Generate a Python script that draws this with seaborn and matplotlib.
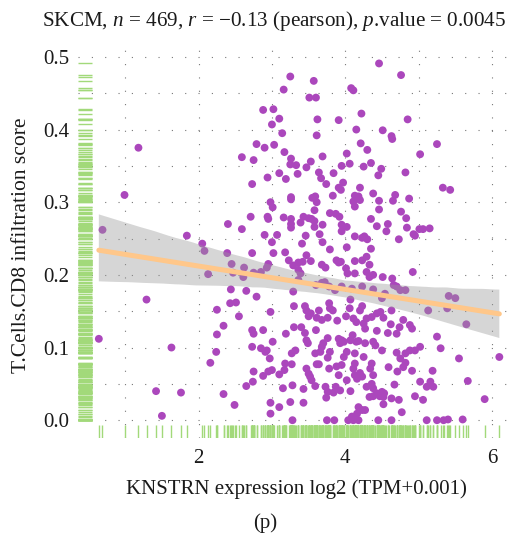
import matplotlib
matplotlib.use("Agg")
import matplotlib.pyplot as plt
import seaborn as sns
import numpy as np
import pandas as pd

# ---- data ----
expr = [
    1.18, 0.99, 0.69, 1.84, 2.40, 2.05, 2.08, 2.39, 2.45, 2.62,
    2.47, 2.13, 2.44, 1.29, 2.43, 2.51, 2.25, 2.55, 2.34, 2.25,
    0.64, 1.63, 2.24, 2.16, 1.42, 1.76, 2.34, 2.49, 1.50,
    3.25, 3.57, 3.16, 3.51, 3.60, 2.88, 3.02, 3.10, 3.00, 3.62,
    3.91, 3.14, 3.61, 2.79, 2.90, 3.03, 3.17, 2.59, 2.75, 3.26,
    3.25, 3.33, 3.53, 3.69, 4.02, 3.47, 3.95, 4.06, 3.10, 3.35,
    3.64, 3.84, 2.94, 3.19, 3.67, 3.74, 3.97, 2.73, 3.91, 3.94,
    3.26, 3.26, 3.55, 3.59, 3.61, 3.83, 2.98, 3.01, 3.58, 2.71,
    2.94, 2.95, 3.16, 3.26, 3.26, 3.26, 3.43, 3.39, 3.50, 3.54,
    3.58, 3.58, 3.69, 3.79, 3.87, 3.92, 3.95, 3.95, 4.02, 2.59,
    2.90, 3.07, 3.46, 3.65, 3.00, 3.41, 3.69, 3.79,
    4.46, 4.76, 4.08, 4.11, 4.22, 4.85, 4.15, 4.51, 4.63, 4.64,
    4.21, 4.30, 5.25, 5.02, 4.25, 4.35, 4.49, 4.45, 4.82, 4.20,
    5.33, 5.43, 4.13, 4.18, 4.20, 4.11, 4.13, 4.38, 4.46, 4.46,
    4.68, 4.65, 4.87, 4.35, 4.43, 4.58, 4.56, 4.76, 4.83, 4.84,
    4.93, 4.95, 5.01, 5.06, 5.15, 4.73, 4.13, 4.23, 4.26, 4.30,
    2.73, 3.02, 3.18, 3.47, 3.23, 3.29, 3.36, 3.42, 3.53, 3.36,
    3.39, 3.68, 3.73, 3.88, 3.91, 2.95, 2.93, 2.85, 2.75, 2.61,
    2.65, 2.79, 3.36, 3.29, 3.60, 3.68, 3.72, 3.78, 3.86, 3.30,
    3.45, 3.47, 3.53, 3.50, 3.64, 3.68, 3.61, 3.78, 3.79, 3.83,
    3.76, 3.89, 2.98, 2.73, 2.75, 2.88, 3.30, 3.40, 3.19, 3.45,
    3.47, 3.49, 3.60, 3.76, 3.70, 3.68, 3.66, 3.79, 3.76, 3.91,
    3.93, 3.01, 2.73, 2.85, 2.91, 2.93, 2.97, 3.32, 3.27, 3.59,
    3.18, 3.17, 3.27, 3.47, 3.50, 3.52, 3.54, 3.61, 3.64, 3.78,
    3.88, 3.91, 2.95, 3.00, 2.88, 2.75, 2.74, 2.65, 3.10, 3.15,
    3.28, 3.43, 3.59, 3.73, 3.76, 3.74, 3.84, 3.87, 3.93, 3.25,
    3.43, 2.98, 2.98, 3.10, 3.28, 3.75, 3.85,
    4.02, 4.35, 4.13, 4.23, 4.29, 4.33, 3.94, 4.01, 4.03, 4.13,
    4.29, 4.33, 4.38, 4.51, 4.64, 4.66, 4.70, 4.75, 4.82, 4.92,
    3.95, 4.09, 4.23, 4.38, 4.07, 4.54, 4.50, 4.63, 5.13, 4.06,
    4.20, 4.23, 4.01, 4.11, 4.15, 4.29, 4.36, 4.43, 4.48, 4.52,
    4.25, 4.27, 4.43, 4.58, 4.62, 4.70, 4.74, 4.79, 4.88, 4.91,
    3.95, 3.98, 4.07, 4.15, 4.18, 4.27, 4.38, 4.41, 4.10, 4.50,
    4.70, 4.75, 4.82, 4.88, 4.95, 5.02, 5.25, 5.30, 4.02, 3.98,
    4.13, 4.25, 3.95, 4.13, 4.11, 4.36, 4.34, 4.59, 4.82, 4.79,
    4.91, 4.71, 4.13, 4.20, 4.16, 4.23, 4.38, 4.02, 4.29, 4.36,
    4.38, 4.43, 4.50, 4.53, 4.47, 4.67, 5.02, 5.11, 5.20, 5.16,
    5.19, 4.07, 4.33, 4.38, 4.52, 4.63, 4.73, 4.95, 5.06, 4.52,
    4.18, 4.23, 4.27, 4.16, 4.77, 4.04, 4.11, 4.18, 4.09, 4.45,
    4.63, 5.11, 5.25, 5.34,
    5.41, 5.50, 5.39, 5.65, 5.55, 6.10, 5.67, 5.90, 5.40, 5.60,
]

score = [
    0.375, 0.310, 0.262, 0.254, 0.270, 0.243, 0.233, 0.230, 0.215, 0.210,
    0.203, 0.201, 0.180, 0.166, 0.161, 0.162, 0.152, 0.143, 0.130, 0.118,
    0.112, 0.100, 0.094, 0.079, 0.040, 0.038, 0.036, 0.021, 0.006,
    0.473, 0.467, 0.455, 0.444, 0.444, 0.427, 0.428, 0.415, 0.407, 0.414,
    0.413, 0.395, 0.392, 0.380, 0.375, 0.379, 0.369, 0.362, 0.358, 0.360,
    0.352, 0.351, 0.356, 0.363, 0.367, 0.348, 0.350, 0.353, 0.340, 0.339,
    0.341, 0.340, 0.334, 0.332, 0.333, 0.325, 0.327, 0.325, 0.320, 0.317,
    0.307, 0.304, 0.306, 0.308, 0.300, 0.309, 0.300, 0.293, 0.289, 0.280,
    0.280, 0.277, 0.279, 0.277, 0.270, 0.265, 0.280, 0.272, 0.278, 0.277,
    0.274, 0.266, 0.269, 0.285, 0.284, 0.280, 0.269, 0.260, 0.266, 0.263,
    0.255, 0.255, 0.254, 0.256, 0.245, 0.243, 0.245, 0.235,
    0.491, 0.475, 0.457, 0.454, 0.422, 0.414, 0.400, 0.399, 0.391, 0.387,
    0.381, 0.372, 0.380, 0.366, 0.349, 0.354, 0.346, 0.337, 0.341, 0.320,
    0.320, 0.317, 0.309, 0.308, 0.303, 0.301, 0.294, 0.312, 0.302, 0.290,
    0.310, 0.302, 0.305, 0.277, 0.267, 0.270, 0.260, 0.287, 0.278, 0.265,
    0.256, 0.254, 0.263, 0.263, 0.264, 0.249, 0.253, 0.251, 0.253, 0.249,
    0.230, 0.230, 0.231, 0.227, 0.220, 0.213, 0.217, 0.218, 0.219, 0.207,
    0.202, 0.214, 0.210, 0.220, 0.217, 0.215, 0.210, 0.204, 0.203, 0.197,
    0.178, 0.170, 0.193, 0.177, 0.186, 0.189, 0.190, 0.184, 0.179, 0.157,
    0.157, 0.151, 0.147, 0.143, 0.151, 0.138, 0.141, 0.161, 0.154, 0.151,
    0.141, 0.137, 0.149, 0.124, 0.119, 0.124, 0.128, 0.128, 0.119, 0.120,
    0.110, 0.106, 0.124, 0.113, 0.106, 0.101, 0.094, 0.094, 0.086, 0.112,
    0.106, 0.108, 0.101, 0.099, 0.094, 0.096, 0.085, 0.096, 0.092, 0.092,
    0.078, 0.069, 0.077, 0.071, 0.064, 0.060, 0.055, 0.077, 0.077, 0.071,
    0.074, 0.062, 0.067, 0.069, 0.061, 0.067, 0.053, 0.047, 0.063, 0.044,
    0.048, 0.043, 0.047, 0.046, 0.039, 0.031, 0.038, 0.046, 0.041, 0.025,
    0.024, 0.024, 0.009, 0.018, 0.000, 0.000, 0.000,
    0.238, 0.236, 0.219, 0.220, 0.225, 0.214, 0.218, 0.209, 0.202, 0.202,
    0.204, 0.197, 0.200, 0.197, 0.195, 0.186, 0.184, 0.179, 0.179, 0.204,
    0.184, 0.181, 0.184, 0.180, 0.166, 0.174, 0.168, 0.151, 0.151, 0.154,
    0.151, 0.157, 0.143, 0.140, 0.135, 0.140, 0.142, 0.147, 0.149, 0.141,
    0.133, 0.126, 0.123, 0.120, 0.132, 0.119, 0.128, 0.138, 0.131, 0.126,
    0.110, 0.108, 0.110, 0.108, 0.109, 0.106, 0.108, 0.103, 0.117, 0.096,
    0.093, 0.085, 0.092, 0.096, 0.096, 0.101, 0.115, 0.099, 0.094, 0.087,
    0.092, 0.087, 0.076, 0.078, 0.071, 0.078, 0.071, 0.073, 0.079, 0.073,
    0.068, 0.067, 0.062, 0.065, 0.057, 0.060, 0.062, 0.055, 0.046, 0.050,
    0.044, 0.037, 0.039, 0.037, 0.033, 0.049, 0.053, 0.046, 0.046, 0.053,
    0.068, 0.040, 0.032, 0.033, 0.032, 0.030, 0.028, 0.033, 0.028, 0.022,
    0.018, 0.014, 0.014, 0.009, 0.011, 0.000, 0.000, 0.000, 0.005, 0.000,
    0.000, 0.000, 0.000, 0.000,
    0.171, 0.168, 0.154, 0.132, 0.085, 0.087, 0.054, 0.029, 0.001, 0.001,
]

x_ticks = [2, 4, 6]
y_ticks = [0.0, 0.1, 0.2, 0.3, 0.4, 0.5]
y_tick_labels = ["0.0", "0.1", "0.2", "0.3", "0.4", "0.5"]

title_text = r"SKCM, $n$ = 469, $r$ = −0.13 (pearson), $p$.value = 0.0045"
x_label = "KNSTRN expression log2 (TPM+0.001)"
y_label = "T.Cells.CD8 infiltration score"
panel_tag = "(p)"

df = pd.DataFrame({"expr": expr, "score": score})

# ---- style ----
sns.set_theme(style="white")
plt.rcParams["font.family"] = ["Liberation Serif", "DejaVu Serif"]
plt.rcParams["mathtext.fontset"] = "custom"
plt.rcParams["mathtext.rm"] = "Liberation Serif"
plt.rcParams["mathtext.it"] = "Liberation Serif:italic"

W, H = 514, 537
fig = plt.figure(figsize=(W / 100, H / 100), dpi=100)
ax = fig.add_axes([78 / W, 1 - 438 / H, (514 - 78) / W, (438 - 46) / H])

point_color = "#AB47BC"
rug_color = "#A2D97A"
line_color = "#FFC78A"
text_color = "#1a1a1a"

# grid
ax.set_xticks(x_ticks)
ax.set_xticks([1, 3, 5], minor=True)
ax.set_yticks(y_ticks)
ax.set_yticks([0.05, 0.15, 0.25, 0.35, 0.45], minor=True)
ax.grid(True, which="both", color="#777777", linewidth=0.8,
        linestyle=(0, (1, 11)))
ax.set_axisbelow(True)

# rugs
sns.rugplot(data=df, x="expr", height=0.033, color=rug_color, lw=1,
            ax=ax, expand_margins=False)
sns.rugplot(data=df, y="score", height=0.033, color=rug_color, lw=1,
            ax=ax, expand_margins=False)

# points
sns.scatterplot(data=df, x="expr", y="score", color=point_color, s=32,
                edgecolor="none", linewidth=0, ax=ax, zorder=3)

# CI band (grey) and fit line (orange)
n_before = len(ax.collections)
sns.regplot(data=df, x="expr", y="score", scatter=False, ci=95, seed=1,
            color="black", line_kws={"lw": 0}, ax=ax)
for coll in ax.collections[n_before:]:
    coll.set_facecolor("#999999")
    coll.set_alpha(0.4)
    coll.set_edgecolor("none")
    coll.set_zorder(4)
sns.regplot(data=df, x="expr", y="score", scatter=False, ci=None,
            color=line_color, line_kws={"lw": 3.6, "zorder": 5}, ax=ax)

ax.set_xlim(0.356, 6.30)
ax.set_ylim(-0.0245, 0.515)
ax.set_yticklabels(y_tick_labels)
ax.set_xlabel("")
ax.set_ylabel("")
for s in ax.spines.values():
    s.set_visible(False)
ax.tick_params(axis="both", which="both", length=0, labelsize=15,
               colors=text_color)
ax.tick_params(axis="y", pad=6)
ax.tick_params(axis="x", pad=8)

fig.text(274 / W, 1 - 21 / H, title_text, ha="center", va="center",
         fontsize=15.2, color=text_color)
fig.text(296 / W, 1 - 489 / H, x_label, ha="center", va="center",
         fontsize=15, color=text_color)
fig.text(22 / W, 1 - 245 / H, y_label, ha="center", va="center",
         rotation=90, fontsize=15.5, color=text_color)
fig.text(265 / W, 1 - 523 / H, panel_tag, ha="center", va="center",
         fontsize=15, color=text_color)

fig.savefig("out.png", dpi=100)
